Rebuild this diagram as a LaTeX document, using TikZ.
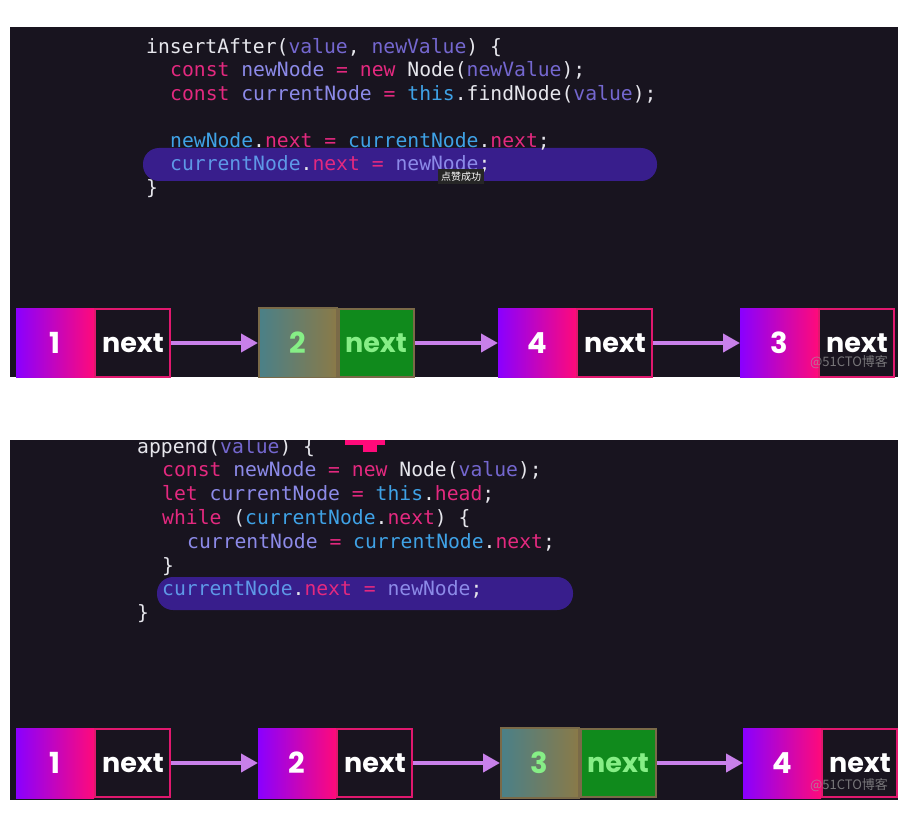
\documentclass[tikz,border=0pt]{standalone}
\usepackage{fontspec}
\setmonofont{DejaVu Sans Mono}
\newfontfamily\knotenfont{Poppins}
\newfontfamily\cjkfont{Noto Sans CJK SC}
\usetikzlibrary{positioning, arrows.meta}

\definecolor{hgcode}{HTML}{18141F}
\definecolor{kwpink}{HTML}{E3297F}
\definecolor{varlav}{HTML}{8C8AE8}
\definecolor{argpur}{HTML}{7467CF}
\definecolor{objcyan}{HTML}{3FA2E6}
\definecolor{plaintxt}{HTML}{E6E6EC}
\definecolor{markbar}{HTML}{381E8C}
\definecolor{lila}{HTML}{8A00FF}
\definecolor{rosa}{HTML}{FF0A7A}
\definecolor{rahmen}{HTML}{E0186E}
\definecolor{dunkel}{HTML}{19141F}
\definecolor{petrol}{HTML}{4A8088}
\definecolor{oliv}{HTML}{8A7A48}
\definecolor{oliverand}{HTML}{7A6A48}
\definecolor{gruen}{HTML}{108A1C}
\definecolor{hellgruen}{HTML}{86EE86}
\definecolor{pfeilc}{HTML}{C880EA}

\newcommand{\ckw}[1]{\textcolor{kwpink}{#1}}
\newcommand{\cvar}[1]{\textcolor{varlav}{#1}}
\newcommand{\carg}[1]{\textcolor{argpur}{#1}}
\newcommand{\cobj}[1]{\textcolor{objcyan}{#1}}

\tikzset{
    codeline/.style={anchor=base west, inner sep=0pt, text=plaintxt,
        font=\ttfamily\fontsize{19.7}{24}\selectfont},
    valbox/.style={anchor=west, minimum width=78pt, minimum height=70pt, inner sep=0pt,
        left color=lila, right color=rosa, text=white,
        font=\knotenfont\bfseries\fontsize{29}{30}\selectfont},
    nextbox/.style={minimum width=75pt, minimum height=68pt, inner sep=0pt,
        fill=dunkel, draw=rahmen, line width=2pt, text=white,
        font=\knotenfont\bfseries\fontsize{27}{30}\selectfont},
    valboxhl/.style={valbox, left color=petrol, right color=oliv,
        draw=oliverand, line width=1.5pt, text=hellgruen},
    nextboxhl/.style={nextbox, fill=gruen, draw=oliverand, text=hellgruen},
    pfeil/.style={pfeilc, line width=4pt, -{Triangle[length=17pt,width=18pt]}},
    wasserz/.style={text=gray!75, opacity=0.7, font=\cjkfont\fontsize{13}{15}\selectfont},
}

\begin{document}
\begin{tikzpicture}[x=1pt, y=-1pt]

  % Rahmen
  \useasboundingbox (0,0) rectangle (911,824);
  \fill[white] (0,0) rectangle (911,824);

  % Oberes Bild: insertAfter
  \begin{scope}
    \clip (10,27) rectangle (898,377);
    \fill[hgcode] (10,27) rectangle (898,377);
    \fill[markbar, rounded corners=16pt] (143,148) rectangle (657,181);

    \node[codeline] (a1) at (146,53.5) {insertAfter(\carg{value}, \carg{newValue}) \{};
    \node[codeline] (a2) at (170,77) {\ckw{const} \cvar{newNode} \ckw{=} \ckw{new} Node(\carg{newValue});};
    \node[codeline] (a3) at (170,100.5) {\ckw{const} \cvar{currentNode} \ckw{=} \cobj{this}.findNode(\carg{value});};
    \node[codeline] (a5) at (170,147.5) {\cobj{newNode}.\ckw{next} \ckw{=} \cobj{currentNode}.\ckw{next};};
    \node[codeline] (a6) at (170,171) {\textcolor{objcyan!60!varlav}{currentNode}.\ckw{next} \ckw{=} \cvar{newNode};};
    \node[codeline] (a7) at (146,194.5) {\}};

    % Hinweis
    \node[fill=black!85, text=white, inner xsep=3pt, inner ysep=3pt,
      font=\cjkfont\fontsize{10}{11}\selectfont] (tipp) at (461,176.5) {点赞成功};

    % Knoten
    \node[valbox] (v1) at (16,343) {1};
    \node[nextbox, right=0pt of v1] (n1) {next};
    \node[valboxhl] (v2) at (258,343) {2};
    \node[nextboxhl, right=0pt of v2] (n2) {next};
    \node[valbox] (v3) at (498,343) {4};
    \node[nextbox, right=0pt of v3] (n3) {next};
    \node[valbox] (v4) at (740,343) {3};
    \node[nextbox, right=0pt of v4] (n4) {next};

    % Pfeile
    \draw[pfeil] (n1) -- (v2);
    \draw[pfeil] (n2) -- (v3);
    \draw[pfeil] (n3) -- (v4);

    \node[wasserz] (wz1) at (849,362) {@51CTO博客};
  \end{scope}

  % Unteres Bild: append
  \begin{scope}
    \clip (10,440) rectangle (898,800);
    \fill[hgcode] (10,440) rectangle (898,800);
    \fill[markbar, rounded corners=16pt] (157,577) rectangle (573,610);

    % Plus-Zeichen (angeschnitten)
    \fill[rosa] (345,438) rectangle (385,445);
    \fill[rosa] (363,438) rectangle (377,452);

    \node[codeline] (b1) at (137,453) {append(\carg{value}) \{};
    \node[codeline] (b2) at (162,476.8) {\ckw{const} \cvar{newNode} \ckw{=} \ckw{new} Node(\carg{value});};
    \node[codeline] (b3) at (162,500.6) {\ckw{let} \cvar{currentNode} \ckw{=} \cobj{this}.\ckw{head};};
    \node[codeline] (b4) at (162,524.4) {\ckw{while} (\cobj{currentNode}.\ckw{next}) \{};
    \node[codeline] (b5) at (187,548.2) {\cvar{currentNode} \ckw{=} \cobj{currentNode}.\ckw{next};};
    \node[codeline] (b6) at (162,572) {\}};
    \node[codeline] (b7) at (162,595.8) {\textcolor{objcyan!60!varlav}{currentNode}.\ckw{next} \ckw{=} \cvar{newNode};};
    \node[codeline] (b8) at (137,619.6) {\}};

    % Knoten
    \node[valbox] (w1) at (16,763) {1};
    \node[nextbox, right=0pt of w1] (m1) {next};
    \node[valbox] (w2) at (258,763) {2};
    \node[nextbox, right=0pt of w2] (m2) {next};
    \node[valboxhl] (w3) at (500,763) {3};
    \node[nextboxhl, right=0pt of w3] (m3) {next};
    \node[valbox] (w4) at (743,763) {4};
    \node[nextbox, right=0pt of w4] (m4) {next};

    % Pfeile
    \draw[pfeil] (m1) -- (w2);
    \draw[pfeil] (m2) -- (w3);
    \draw[pfeil] (m3) -- (w4);

    \node[wasserz] (wz2) at (849,785) {@51CTO博客};
  \end{scope}

\end{tikzpicture}
\end{document}
